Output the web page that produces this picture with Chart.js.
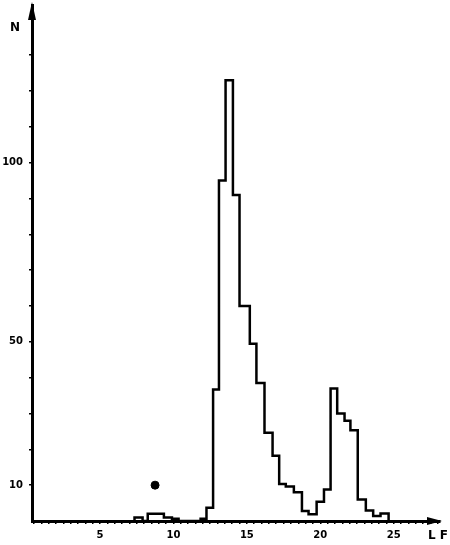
<!DOCTYPE html>
<html>
<head>
<meta charset="utf-8">
<script src="https://cdn.jsdelivr.net/npm/chart.js@4"></script>
<style>
  html, body { margin: 0; padding: 0; background: #fff; }
  #wrap { width: 450px; height: 545px; position: relative; }
</style>
</head>
<body>
<div id="wrap"><canvas id="chart"></canvas></div>
<script>
// bin edges (LF), one more edge than counts
const binEdges = [7.35, 7.9, 8.25, 9.35, 9.9, 10.35, 11.85, 12.25, 12.7, 13.1, 13.55,
  14.05, 14.5, 15.2, 15.65, 16.2, 16.75, 17.2, 17.65, 18.2, 18.75, 19.2, 19.75,
  20.25, 20.7, 21.15, 21.65, 22.05, 22.55, 23.1, 23.6, 24.1, 24.65];
const counts = [1, 0, 2, 1, 0.6, 0, 0.6, 3.7, 36.7, 95, 123, 91, 60, 49.5, 38.5,
  24.6, 18.2, 10.3, 9.6, 8, 2.8, 1.9, 5.4, 8.8, 37, 30, 28, 25.3, 6, 2.9, 1.4, 2.1];

// the small marker near LF 8.7
const markerX = [8.75];
const markerY = [10];

const xTickLabels = [5, 10, 15, 20, 25];
const yTickLabels = [10, 50, 100];

const histPoints = [{ x: binEdges[0], y: 0 }];
counts.forEach((c, i) => histPoints.push({ x: binEdges[i], y: c }));
histPoints.push({ x: binEdges[binEdges.length - 1], y: 0 });

const tickFont = { family: 'DejaVu Sans', size: 10, weight: 'bold' };

const axisDecor = {
  id: 'axisDecor',
  afterDraw(chart) {
    const ctx = chart.ctx;
    const a = chart.chartArea;
    ctx.save();
    ctx.fillStyle = '#000';
    // y arrow
    ctx.beginPath();
    ctx.moveTo(a.left, 2);
    ctx.lineTo(a.left - 4, 20);
    ctx.lineTo(a.left + 4, 20);
    ctx.closePath();
    ctx.fill();
    // x arrow
    ctx.beginPath();
    ctx.moveTo(a.right + 2, a.bottom);
    ctx.lineTo(a.right - 13, a.bottom - 4);
    ctx.lineTo(a.right - 13, a.bottom + 4);
    ctx.closePath();
    ctx.fill();
    ctx.font = 'bold 12px "DejaVu Sans"';
    ctx.textAlign = 'center';
    ctx.textBaseline = 'middle';
    ctx.fillText('N', 15, 28);
    ctx.fillText('L F', 438, 536);
    ctx.restore();
  }
};

new Chart(document.getElementById('chart'), {
  type: 'line',
  data: {
    datasets: [{
      data: histPoints,
      stepped: 'before',
      borderColor: '#000',
      borderWidth: 2.5,
      pointRadius: 0,
      fill: false
    }, {
      type: 'scatter',
      data: markerX.map((x, i) => ({ x: x, y: markerY[i] })),
      pointStyle: 'circle',
      pointRadius: 4,
      backgroundColor: '#000',
      borderColor: '#000'
    }]
  },
  options: {
    responsive: true,
    maintainAspectRatio: false,
    animation: false,
    layout: { padding: { left: 0, top: 4, right: 10, bottom: 0 } },
    plugins: { legend: { display: false }, tooltip: { enabled: false } },
    scales: {
      x: {
        type: 'linear',
        min: 0.37,
        max: 28.15,
        afterFit: s => { s.height = 24; },
        afterBuildTicks: s => {
          const t = [];
          for (let v = 0.5; v <= 28; v += 0.5) t.push({ value: v });
          s.ticks = t;
        },
        grid: { drawOnChartArea: false, drawTicks: true, tickLength: 3, color: '#000', lineWidth: 1.5 },
        border: { color: '#000', width: 3 },
        ticks: {
          autoSkip: false, maxRotation: 0, padding: 5, color: '#000', font: tickFont,
          callback: v => xTickLabels.includes(v) ? String(v) : ''
        }
      },
      y: {
        min: 0,
        max: 144,
        afterFit: s => { s.width = 32; s.paddingTop = 0; s.paddingBottom = 0; },
        afterBuildTicks: s => {
          const t = [];
          for (let v = 10; v <= 130; v += 10) t.push({ value: v });
          s.ticks = t;
        },
        grid: { drawOnChartArea: false, drawTicks: true, tickLength: 3, color: '#000', lineWidth: 1.5 },
        border: { color: '#000', width: 3 },
        ticks: {
          autoSkip: false, padding: 6, color: '#000', font: tickFont,
          callback: v => yTickLabels.includes(v) ? String(v) : ''
        }
      }
    }
  },
  plugins: [axisDecor]
});
</script>
</body>
</html>
